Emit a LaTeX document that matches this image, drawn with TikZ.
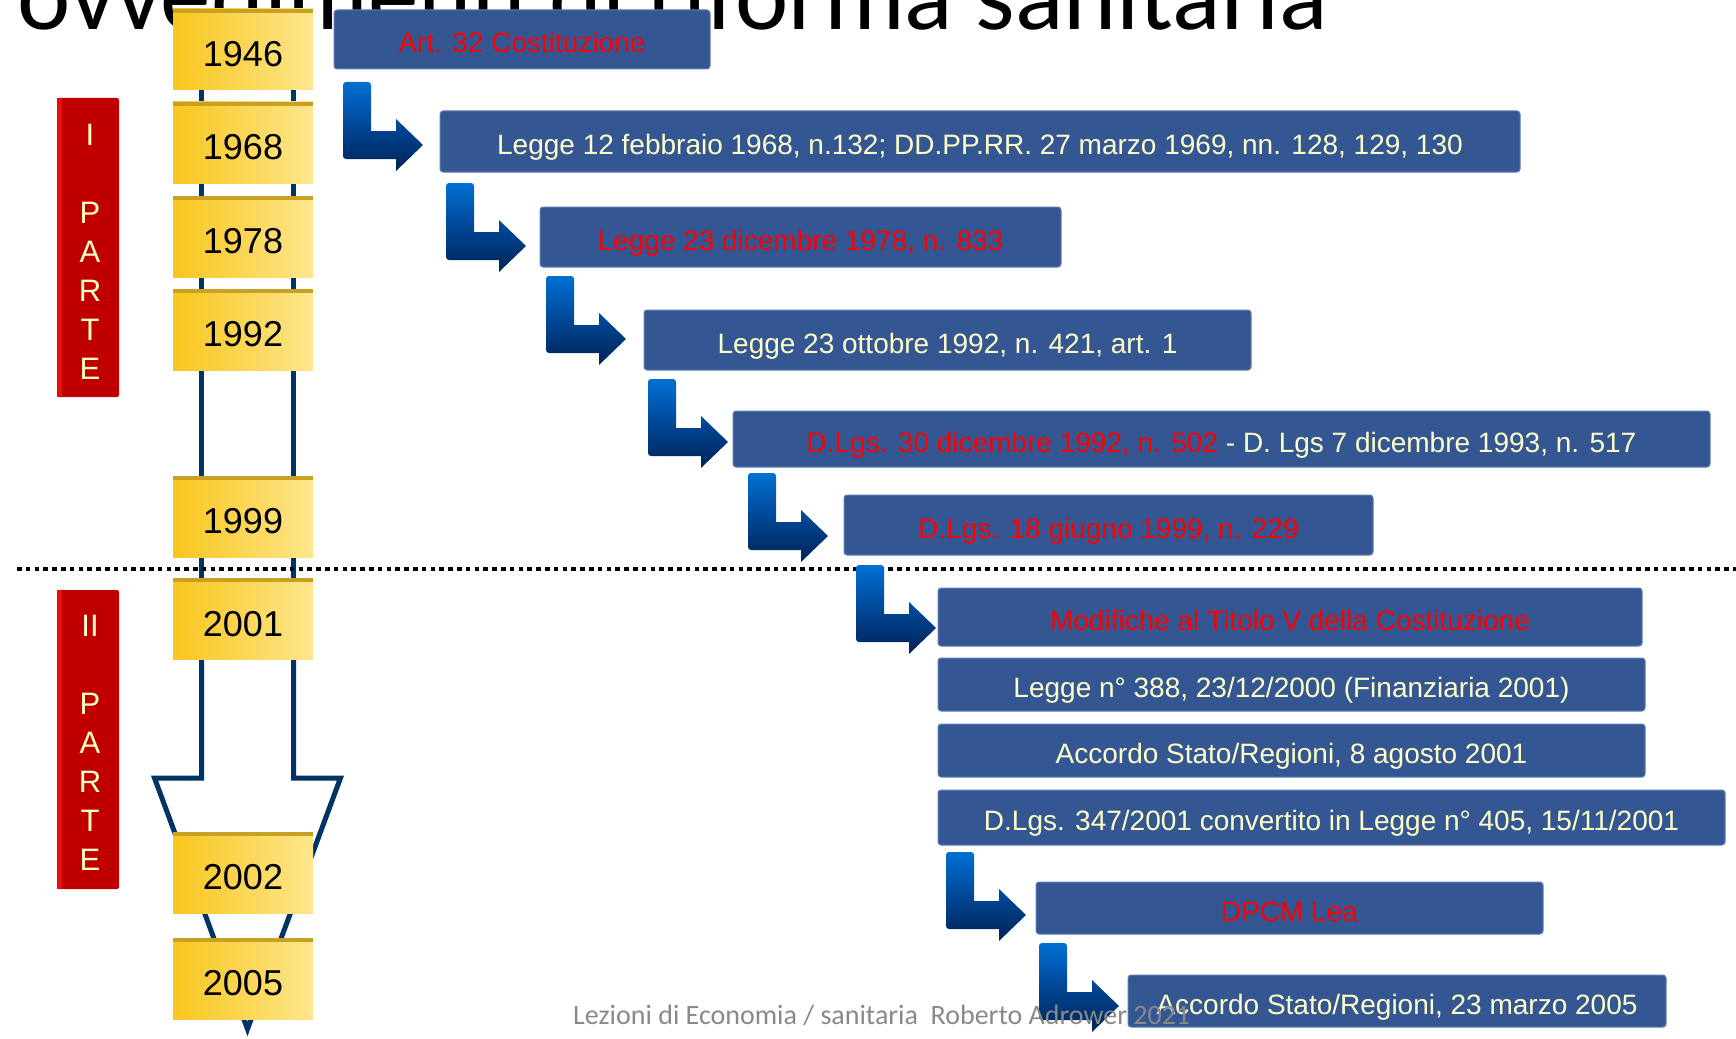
\documentclass[tikz,border=0pt]{standalone}
\usepackage{fontspec}
\setmainfont{Liberation Sans}
\newfontfamily\carlito{Carlito}
\usetikzlibrary{calc}
\pgfdeclarelayer{bg}
\pgfsetlayers{bg,main}
\definecolor{boxblue}{RGB}{52,87,148}
\definecolor{boxedge}{RGB}{95,125,180}
\definecolor{cream}{RGB}{255,255,200}
\definecolor{navy}{RGB}{0,51,102}
\definecolor{yl}{RGB}{249,198,30}
\definecolor{yr}{RGB}{253,230,140}
\definecolor{ytop}{RGB}{200,160,35}
\definecolor{parred}{RGB}{192,0,0}
\definecolor{parlight}{RGB}{232,12,12}
\definecolor{arrtop}{RGB}{0,112,210}
\definecolor{arrmid}{RGB}{0,70,150}
\definecolor{arrbot}{RGB}{0,35,85}
\definecolor{footgray}{RGB}{137,137,137}
\begin{document}
\begin{tikzpicture}[x=1pt,y=-1pt,
  yearbox/.style={left color=yl, right color=yr, minimum width=140pt, minimum height=81pt,
    inner sep=0pt, font=\fontsize{36}{40}\selectfont, text height=34pt, text depth=0pt},
  lawbox/.style={fill=boxblue, draw=boxedge, line width=1pt, rounded corners=3pt, inner sep=0pt,
    text=cream, font=\fontsize{28}{32}\selectfont, text height=26pt, text depth=0pt},
  rail/.style={draw=navy, line width=5pt, line join=miter, miter limit=20},
  partebox/.style={fill=parred, rounded corners=2pt, inner sep=0pt, minimum width=62pt, minimum height=299pt},
  partetext/.style={text=cream, align=center, font=\fontsize{31}{39}\selectfont, inner sep=0pt},
  sepline/.style={line width=4pt, dash pattern=on 4.5pt off 4.3pt},
  larrow/.pic={
    \shade[top color=arrtop, bottom color=arrbot, middle color=arrmid]
      (0,40) [rounded corners=3pt] -- (0,0) -- (28,0) -- (28,30) [sharp corners] -- (28,49)
      -- (53,49) -- (53,37) -- (80,63) -- (53,89) -- (53,77) [rounded corners=3pt] -- (0,77)
      -- (0,40) [sharp corners] -- cycle;
  }
]
\useasboundingbox (0,0) rectangle (1736,1038);

% title (cut by the top edge)
\begin{scope}
\clip (0,0) rectangle (1736,1038);
\node[anchor=base west, inner sep=0pt, font=\carlito\fontsize{101}{101}\selectfont] (title) at (17,30) {ovvedimenti di riforma sanitaria};
\end{scope}

% year nodes
\foreach \yr/\cy in {1946/49.5,1968/142.5,1978/236.5,1992/329.5,1999/516.5,2001/619,2002/872.5,2005/978.5}{
  \node[yearbox] (y\yr) at (243,\cy) {\yr};
  \fill[ytop] (y\yr.north west) -- (y\yr.north east) -- ([yshift=-4pt]y\yr.north east) -- ([yshift=-4pt]y\yr.north west) -- cycle;
}

% rails and big arrow behind the year boxes
\coordinate (tip) at (247.5,1029);
\begin{pgfonlayer}{bg}
\draw[rail] ([xshift=-41.5pt]y1946.center) -- ([xshift=-41.5pt]y2001.center);
\draw[rail] ([xshift=50.5pt]y1946.center) -- ([xshift=50.5pt]y2001.center);
\draw[rail] ([xshift=-41.5pt]y2001.center) -- (201.5,778) -- (154.5,778) -- (tip)
  -- (340.5,778) -- (293.5,778) -- ([xshift=50.5pt]y2001.center);
\end{pgfonlayer}

% separator
\draw[sepline] (17,569) -- (1736,569);

% PARTE labels
\node[partebox] (p1) at (88,247.5) {};
\fill[parlight] (p1.north west) rectangle ([xshift=5pt]p1.south west);
\node[partetext] (p1t) at (90,251.5) {I\\[39pt]P\\A\\R\\T\\E};
\node[partebox] (p2) at (88,739.5) {};
\fill[parlight] (p2.north west) rectangle ([xshift=5pt]p2.south west);
\node[partetext] (p2t) at (90,742.5) {II\\[39pt]P\\A\\R\\T\\E};

% law boxes
\node[lawbox, minimum width=376pt, minimum height=59pt] (b1) at (522,39.5) {\color{red}Art. 32 Costituzione};
\node[lawbox, minimum width=1080pt, minimum height=61pt] (b2) at (980,141.5) {Legge 12 febbraio 1968, n.132; DD.PP.RR. 27 marzo 1969, nn. 128, 129, 130};
\node[lawbox, minimum width=521pt, minimum height=60pt] (b3) at (800.5,237) {\color{red}Legge 23 dicembre 1978, n. 833};
\node[lawbox, minimum width=607pt, minimum height=60pt] (b4) at (947.5,340) {Legge 23 ottobre 1992, n. 421, art. 1};
\node[lawbox, minimum width=977pt, minimum height=56pt] (b5) at (1221.5,439) {{\color{red}D.Lgs. 30 dicembre 1992, n. 502} - D. Lgs 7 dicembre 1993, n. 517};
\node[lawbox, minimum width=529pt, minimum height=60pt] (b6) at (1108.5,525) {\color{red}D.Lgs. 18 giugno 1999, n. 229};
\node[lawbox, minimum width=704pt, minimum height=58pt] (b7) at (1290,617) {\color{red}Modifiche al Titolo V della Costituzione};
\node[lawbox, minimum width=707pt, minimum height=53pt] (b8) at (1291.5,684.5) {Legge n° 388, 23/12/2000 (Finanziaria 2001)};
\node[lawbox, minimum width=707pt, minimum height=53pt] (b9) at (1291.5,750.5) {Accordo Stato/Regioni, 8 agosto 2001};
\node[lawbox, minimum width=787pt, minimum height=55pt] (b10) at (1331.5,817.5) {D.Lgs. 347/2001 convertito in Legge n° 405, 15/11/2001};
\node[lawbox, minimum width=507pt, minimum height=52pt] (b11) at (1289.5,908) {\color{red}DPCM Lea};
\node[lawbox, minimum width=538pt, minimum height=52pt] (b12) at (1397,1001) {Accordo Stato/Regioni, 23 marzo 2005};

% bent arrows
\pic (a1) at (343,82) {larrow};
\pic (a2) at (446,183) {larrow};
\pic (a3) at (546,276) {larrow};
\pic (a4) at (648,379) {larrow};
\pic (a5) at (748,473) {larrow};
\pic (a6) at (856,565) {larrow};
\pic (a7) at (946,852) {larrow};
\pic (a8) at (1039,943) {larrow};

% footer
\node[anchor=base west, inner sep=0pt, text=footgray, font=\carlito\fontsize{28}{30}\selectfont] (foot) at (573,1024) {Lezioni di Economia / sanitaria\ \ Roberto Adrower 2021};
\end{tikzpicture}
\end{document}
